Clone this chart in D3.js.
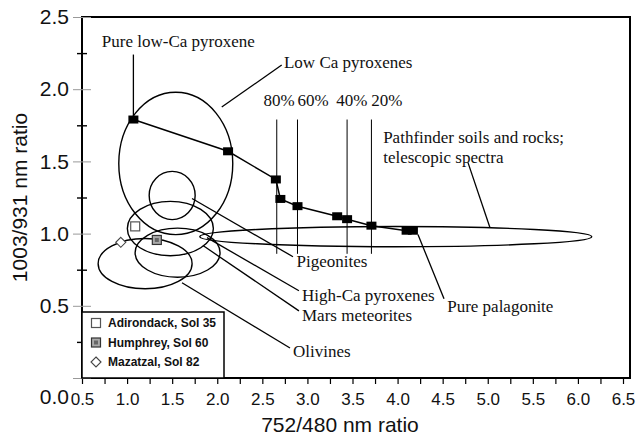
<!DOCTYPE html>
<html>
<head>
<meta charset="utf-8">
<script src="https://cdn.jsdelivr.net/npm/d3@7"></script>
<style>
  body { margin: 0; background: #fff; }
  svg text { fill: #111; }
  .serif { font-family: "Liberation Serif", "Times New Roman", serif; font-size: 17px; }
</style>
</head>
<body>
<div id="chart"></div>
<script>
// mixing curve: pure low-Ca pyroxene -> pure palagonite
var mixX = [1.07, 2.12, 2.65, 2.70, 2.89, 3.33, 3.44, 3.71, 4.10, 4.17];
var mixY = [1.79, 1.57, 1.375, 1.24, 1.19, 1.12, 1.10, 1.055, 1.02, 1.02];

// percent markers along the curve
var pctLabels = ["80%", "60%", "40%", "20%"];
var pctX = [2.66, 2.89, 3.44, 3.71];

// mineral fields (ellipses): name, centre x, centre y, radius x, radius y
var fieldNames = ["Low Ca pyroxenes", "Pigeonites", "High-Ca pyroxenes", "Mars meteorites", "Olivines", "Pathfinder soils and rocks"];
var fieldCx = [1.54, 1.50, 1.48, 1.56, 1.20, 3.98];
var fieldCy = [1.486, 1.264, 1.035, 0.868, 0.792, 0.979];
var fieldRx = [0.632, 0.255, 0.477, 0.471, 0.521, 2.174];
var fieldRy = [0.493, 0.167, 0.188, 0.170, 0.174, 0.07];

// rover samples
var sampleNames = ["Adirondack, Sol 35", "Humphrey, Sol 60", "Mazatzal, Sol 82"];
var sampleX = [1.09, 1.33, 0.93];
var sampleY = [1.05, 0.956, 0.94];

var xTicks = [0.5, 1.0, 1.5, 2.0, 2.5, 3.0, 3.5, 4.0, 4.5, 5.0, 5.5, 6.0, 6.5];
var yTicks = [0.0, 0.5, 1.0, 1.5, 2.0, 2.5];

var width = 644, height = 437;
var margin = { top: 17, right: 21, bottom: 59, left: 82 };

var x = d3.scaleLinear().domain([0.5, 6.5]).range([margin.left, width - margin.right]);
var y = d3.scaleLinear().domain([0, 2.5]).range([height - margin.bottom, margin.top]);

var svg = d3.select("#chart").append("svg")
    .attr("width", width)
    .attr("height", height)
    .style("font-family", "'Liberation Sans', Arial, sans-serif");

// frame (runs a little past 6.5 on the right, as in the figure)
svg.append("rect")
    .attr("x", x(0.5)).attr("y", y(2.5))
    .attr("width", x(6.5) - x(0.5) + 7).attr("height", y(0) - y(2.5))
    .attr("fill", "none").attr("stroke", "#000").attr("stroke-width", 2);

// x axis ticks every 0.25, labels every 0.5
var xAxis = d3.axisBottom(x)
    .tickValues(d3.range(0.5, 6.51, 0.25))
    .tickSize(6)
    .tickFormat(function (d) { return xTicks.indexOf(d) >= 0 ? d3.format(".1f")(d) : ""; });
var gx = svg.append("g")
    .attr("transform", "translate(0," + y(0) + ")")
    .call(xAxis);
gx.select(".domain").remove();
gx.selectAll(".tick line").attr("stroke", "#000").attr("stroke-width", 1.2);
gx.selectAll(".tick text")
    .attr("y", 15)
    .style("font-size", "17px")
    .style("font-family", "'Liberation Sans', Arial, sans-serif");

// y axis: ticks cross the axis line
var yAxis = d3.axisLeft(y)
    .tickValues(d3.range(0, 2.51, 0.25))
    .tickSize(0)
    .tickFormat(function (d) { return yTicks.indexOf(d) >= 0 ? d3.format(".1f")(d) : ""; });
var gy = svg.append("g")
    .attr("transform", "translate(" + x(0.5) + ",0)")
    .call(yAxis);
gy.select(".domain").remove();
gy.selectAll(".tick line")
    .attr("x1", function (d) { return yTicks.indexOf(d) >= 0 ? -9 : -5; })
    .attr("x2", function (d) { return yTicks.indexOf(d) >= 0 ? 9 : 5; })
    .attr("stroke", function (d) { return yTicks.indexOf(d) >= 0 ? "#999" : "#000"; })
    .attr("stroke-width", function (d) { return yTicks.indexOf(d) >= 0 ? 1 : 1.4; });
gy.selectAll(".tick text")
    .attr("x", -13)
    .attr("y", function (d) { return d === 0 ? 19 : 0; })
    .style("font-size", "21px")
    .style("font-family", "'Liberation Sans', Arial, sans-serif");

// axis titles
svg.append("text")
    .attr("x", 340)
    .attr("y", 432)
    .attr("text-anchor", "middle")
    .style("font-size", "21px")
    .text("752/480 nm ratio");
svg.append("text")
    .attr("transform", "translate(27," + (y(0) + y(2.5)) / 2 + ")rotate(-90)")
    .attr("text-anchor", "middle")
    .style("font-size", "21px")
    .text("1003/931 nm ratio");

// mineral field ellipses
svg.selectAll(".field")
    .data(fieldNames)
    .enter().append("ellipse")
    .attr("class", "field")
    .attr("cx", function (d, i) { return x(fieldCx[i]); })
    .attr("cy", function (d, i) { return y(fieldCy[i]); })
    .attr("rx", function (d, i) { return x(fieldCx[i] + fieldRx[i]) - x(fieldCx[i]); })
    .attr("ry", function (d, i) { return y(fieldCy[i]) - y(fieldCy[i] + fieldRy[i]); })
    .attr("fill", "none")
    .attr("stroke", "#000")
    .attr("stroke-width", 1.4);

// percent guide lines
svg.selectAll(".pct")
    .data(pctX)
    .enter().append("line")
    .attr("x1", function (d) { return x(d); })
    .attr("x2", function (d) { return x(d); })
    .attr("y1", y(1.79))
    .attr("y2", y(0.86))
    .attr("stroke", "#000")
    .attr("stroke-width", 1);

// annotations: text, anchor position and leader line (data units)
var notes = [
  { text: ["Pure low-Ca pyroxene"], tx: 0.72, ty: 2.29, line: [[1.07, 2.24], [1.07, 1.79]] },
  { text: ["Low Ca pyroxenes"], tx: 2.74, ty: 2.145, line: [[2.05, 1.877], [2.715, 2.167]] },
  { text: ["Pathfinder soils and rocks;", "telescopic spectra"], tx: 3.84, ty: 1.625, line: [[4.78, 1.493], [5.025, 1.041]] },
  { text: ["Pigeonites"], tx: 2.88, ty: 0.771, line: [[1.72, 1.243], [2.84, 0.84]] },
  { text: ["High-Ca pyroxenes"], tx: 2.94, ty: 0.535, line: [[1.886, 0.972], [2.906, 0.604]] },
  { text: ["Mars meteorites"], tx: 2.94, ty: 0.396, line: [[1.842, 0.917], [2.906, 0.465]] },
  { text: ["Olivines"], tx: 2.84, ty: 0.146, line: [[1.609, 0.66], [2.807, 0.208]] },
  { text: ["Pure palagonite"], tx: 4.55, ty: 0.458, line: [[4.226, 0.993], [4.515, 0.549]] }
];

svg.selectAll(".leader")
    .data(notes)
    .enter().append("path")
    .attr("class", "leader")
    .attr("d", function (d) { return d3.line().x(function (p) { return x(p[0]); }).y(function (p) { return y(p[1]); })(d.line); })
    .attr("fill", "none")
    .attr("stroke", "#000")
    .attr("stroke-width", 1.3);

notes.forEach(function (n) {
  var t = svg.append("text")
      .attr("class", "serif")
      .attr("x", x(n.tx))
      .attr("y", y(n.ty));
  n.text.forEach(function (s, i) {
    t.append("tspan").attr("x", x(n.tx)).attr("dy", i ? 20 : 0).text(s);
  });
});

// percent labels, written in a row above the lines
var pctTextX = [2.685, 3.062, 3.494, 3.882];
svg.selectAll(".pctlab")
    .data(pctLabels)
    .enter().append("text")
    .attr("class", "serif")
    .attr("x", function (d, i) { return x(pctTextX[i]); })
    .attr("y", y(1.885))
    .attr("text-anchor", "middle")
    .text(function (d) { return d; });

// mixing curve
var line = d3.line()
    .x(function (d, i) { return x(mixX[i]); })
    .y(function (d, i) { return y(mixY[i]); });
svg.append("path")
    .datum(mixX)
    .attr("d", line)
    .attr("fill", "none")
    .attr("stroke", "#000")
    .attr("stroke-width", 1.5);
svg.selectAll(".mix")
    .data(mixX)
    .enter().append("rect")
    .attr("class", "mix")
    .attr("x", function (d) { return x(d) - 5; })
    .attr("y", function (d, i) { return y(mixY[i]) - 4; })
    .attr("width", 10)
    .attr("height", 8)
    .attr("fill", "#000");

// sample symbols
function symbol(g, i) {
  if (i === 0) {
    g.append("rect").attr("x", -4.5).attr("y", -4.5).attr("width", 9).attr("height", 9)
        .attr("fill", "#fff").attr("stroke", "#555").attr("stroke-width", 1.2);
  } else if (i === 1) {
    g.append("rect").attr("x", -4.5).attr("y", -4.5).attr("width", 9).attr("height", 9)
        .attr("fill", "#aaa").attr("stroke", "#333").attr("stroke-width", 1.2);
    g.append("rect").attr("x", -2).attr("y", -2).attr("width", 4).attr("height", 4)
        .attr("fill", "#666");
  } else {
    g.append("path").attr("d", "M0,-5L5,0L0,5L-5,0Z")
        .attr("fill", "#fff").attr("stroke", "#444").attr("stroke-width", 1.1);
  }
}

sampleNames.forEach(function (s, i) {
  var g = svg.append("g").attr("transform", "translate(" + x(sampleX[i]) + "," + y(sampleY[i]) + ")");
  symbol(g, i);
});

// legend
var legend = svg.append("g").attr("transform", "translate(" + x(0.5) + ",312)");
legend.append("rect")
    .attr("width", 142)
    .attr("height", y(0) - 312)
    .attr("fill", "#fff")
    .attr("stroke", "#000")
    .attr("stroke-width", 1.5);
sampleNames.forEach(function (s, i) {
  var row = legend.append("g").attr("transform", "translate(0," + (11 + i * 19.5) + ")");
  var g = row.append("g").attr("transform", "translate(14,0)");
  symbol(g, i);
  row.append("text")
      .attr("x", 26)
      .attr("dy", "0.35em")
      .style("font-size", "12px")
      .style("font-weight", "bold")
      .text(s);
});
</script>
</body>
</html>
